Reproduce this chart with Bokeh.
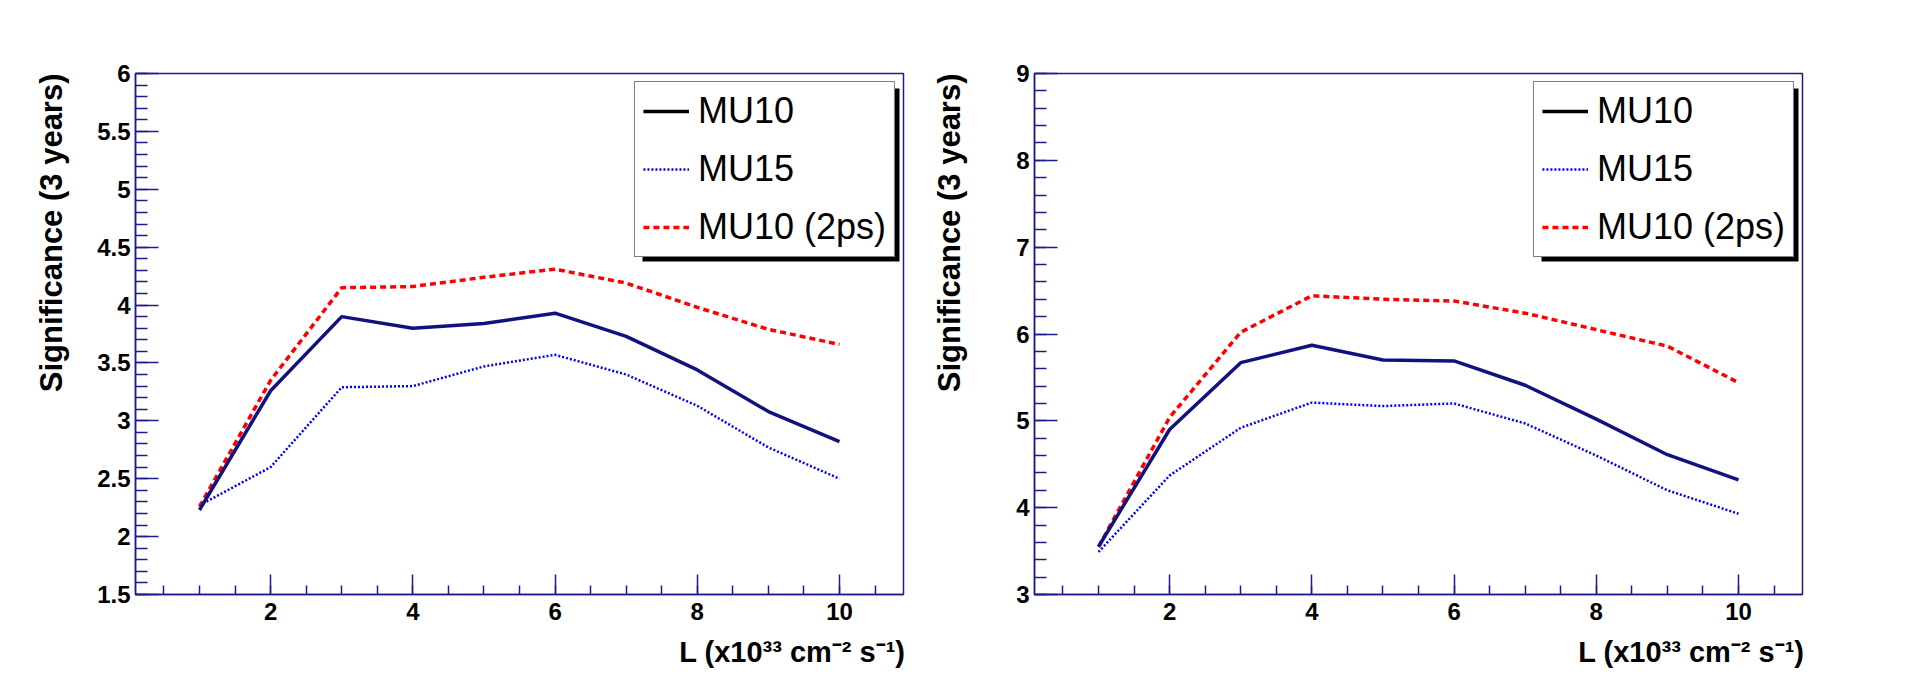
from bokeh.plotting import figure
from bokeh.models import (Range1d, FixedTicker, NumeralTickFormatter, Legend, LegendItem,
                          Title, BoxAnnotation, ColumnDataSource)
from bokeh.layouts import row
from bokeh.embed import file_html
from bokeh.resources import INLINE

# ---------------- data ----------------
lumi = [1, 2, 3, 4, 5, 6, 7, 8, 9, 10]

left_mu10 = [2.23, 3.26, 3.90, 3.80, 3.84, 3.93, 3.73, 3.44, 3.08, 2.82]
left_mu15 = [2.27, 2.60, 3.29, 3.30, 3.47, 3.57, 3.40, 3.13, 2.77, 2.50]
left_mu10_2ps = [2.26, 3.35, 4.15, 4.16, 4.24, 4.31, 4.19, 3.98, 3.79, 3.66]

right_mu10 = [3.55, 4.90, 5.67, 5.87, 5.70, 5.69, 5.41, 5.02, 4.61, 4.32]
right_mu15 = [3.49, 4.37, 4.92, 5.21, 5.17, 5.20, 4.97, 4.60, 4.20, 3.93]
right_mu10_2ps = [3.55, 5.04, 6.02, 6.44, 6.40, 6.38, 6.24, 6.05, 5.86, 5.44]

series_names = ["MU10", "MU15", "MU10 (2ps)"]
x_title = "L (x10\u00b3\u00b3 cm\u207b\u00b2 s\u207b\u00b9)"
y_title = "Significance (3 years)"

x_range_lr = (0.1, 10.9)
x_major_ticks = [2, 4, 6, 8, 10]
left_y_range = (1.5, 6.0)
left_y_major = [1.5, 2, 2.5, 3, 3.5, 4, 4.5, 5, 5.5, 6]
right_y_range = (3.0, 9.0)
right_y_major = [3, 4, 5, 6, 7, 8, 9]

# ---------------- style ----------------
NAVY = "#12127f"
AXIS = "#1c1c8c"
FONT = "Liberation Sans"
FRAME_W, FRAME_H = 768, 521


def make_panel(y_vals, y_range, y_major, y_minor_step, left_border, right_border,
               ytitle_standoff, ytitle_gap):
    x0, x1 = x_range_lr
    y0, y1 = y_range
    p = figure(frame_width=FRAME_W, frame_height=FRAME_H,
               x_range=Range1d(x0, x1), y_range=Range1d(y0, y1),
               output_backend="svg", toolbar_location=None,
               min_border_left=left_border, min_border_right=right_border,
               min_border_top=73, min_border_bottom=81,
               background_fill_color="white", border_fill_color="white")
    p.grid.visible = False
    p.outline_line_color = AXIS
    p.outline_line_width = 1.5

    # x axis
    xminor = [0.5 * k for k in range(1, 22)]
    p.xaxis.ticker = FixedTicker(ticks=x_major_ticks, minor_ticks=xminor)
    p.xaxis.major_tick_in = 20
    p.xaxis.major_tick_out = 0
    p.xaxis.minor_tick_in = 9
    p.xaxis.minor_tick_out = 0
    # y axis
    n = int(round((y1 - y0) / y_minor_step))
    yminor = [y0 + y_minor_step * k for k in range(n + 1)]
    p.yaxis.ticker = FixedTicker(ticks=y_major, minor_ticks=yminor)
    p.yaxis.major_tick_in = 23
    p.yaxis.major_tick_out = 0
    p.yaxis.minor_tick_in = 12
    p.yaxis.minor_tick_out = 0
    p.yaxis.formatter = NumeralTickFormatter(format="0.[0]")
    p.xaxis.formatter = NumeralTickFormatter(format="0")
    for ax in (p.xaxis, p.yaxis):
        ax.axis_line_color = AXIS
        ax.axis_line_width = 1.5
        ax.major_tick_line_color = AXIS
        ax.minor_tick_line_color = AXIS
        ax.major_tick_line_width = 1.5
        ax.minor_tick_line_width = 1.5
        ax.major_label_text_font = FONT
        ax.major_label_text_font_style = "bold"
        ax.major_label_text_font_size = "24px"
        ax.major_label_text_color = "black"
    p.xaxis.major_label_standoff = 8
    p.yaxis.major_label_standoff = 5
    # blank spacers between the tick labels and the axis titles
    if ytitle_gap > 0:
        p.yaxis.axis_label = " "
        p.yaxis.axis_label_text_font_size = "1px"
        p.yaxis.axis_label_standoff = ytitle_gap
    p.xaxis.axis_label = " "
    p.xaxis.axis_label_text_font_size = "1px"
    p.xaxis.axis_label_standoff = 8

    mu10, mu15, mu10_2ps = y_vals
    src = ColumnDataSource(dict(x=lumi, a=mu10, b=mu15, c=mu10_2ps))
    r15 = p.line("x", "b", source=src, line_color="#0000ff", line_width=2.5, line_dash="2 2")
    r2ps = p.line("x", "c", source=src, line_color="#ff0000", line_width=3.5, line_dash="6 4")
    r10 = p.line("x", "a", source=src, line_color=NAVY, line_width=3.5)
    # legend sample for MU10 is drawn in black (renderer holds no visible point)
    dummy = p.line(x=[float("nan")], y=[float("nan")], line_color="black", line_width=3.5)

    # pixel -> data conversion factors of this frame
    sx = FRAME_W / (x1 - x0)
    sy = FRAME_H / (y1 - y0)

    # legend shadow
    shadow = BoxAnnotation(left=x0 + 507 / sx, right=x0 + 764 / sx,
                           top=y1 - 15 / sy, bottom=y1 - 188 / sy,
                           fill_color="black", fill_alpha=1.0, line_color=None,
                           level="annotation")
    p.add_layout(shadow)

    legend = Legend(items=[LegendItem(label=series_names[0], renderers=[dummy]),
                           LegendItem(label=series_names[1], renderers=[r15]),
                           LegendItem(label=series_names[2], renderers=[r2ps])],
                    location="top_right", margin=8, padding=8, spacing=16,
                    glyph_width=46, glyph_height=20, label_standoff=9,
                    label_text_font=FONT, label_text_font_size="36px",
                    label_text_color="black",
                    border_line_color="black", border_line_width=1.5,
                    background_fill_color="white", background_fill_alpha=1.0)
    p.add_layout(legend)

    # axis titles, aligned to the end of each axis (as ROOT does)
    p.add_layout(Title(text=y_title, align="right", vertical_align="bottom",
                       text_font=FONT, text_font_size="31px", text_font_style="bold",
                       text_color="black", standoff=ytitle_standoff), "left")
    p.add_layout(Title(text=x_title, align="right", vertical_align="top", offset=-2,
                       text_font=FONT, text_font_size="29px", text_font_style="bold",
                       text_color="black", standoff=2), "below")
    return p


p1 = make_panel((left_mu10, left_mu15, left_mu10_2ps), left_y_range, left_y_major, 0.1,
                135, 12, 52, 0)
p2 = make_panel((right_mu10, right_mu15, right_mu10_2ps), right_y_range, right_y_major, 0.2,
                119, 100, 10, 38)

layout = row(p1, p2)
open("out.html", "w").write(file_html(layout, INLINE))
